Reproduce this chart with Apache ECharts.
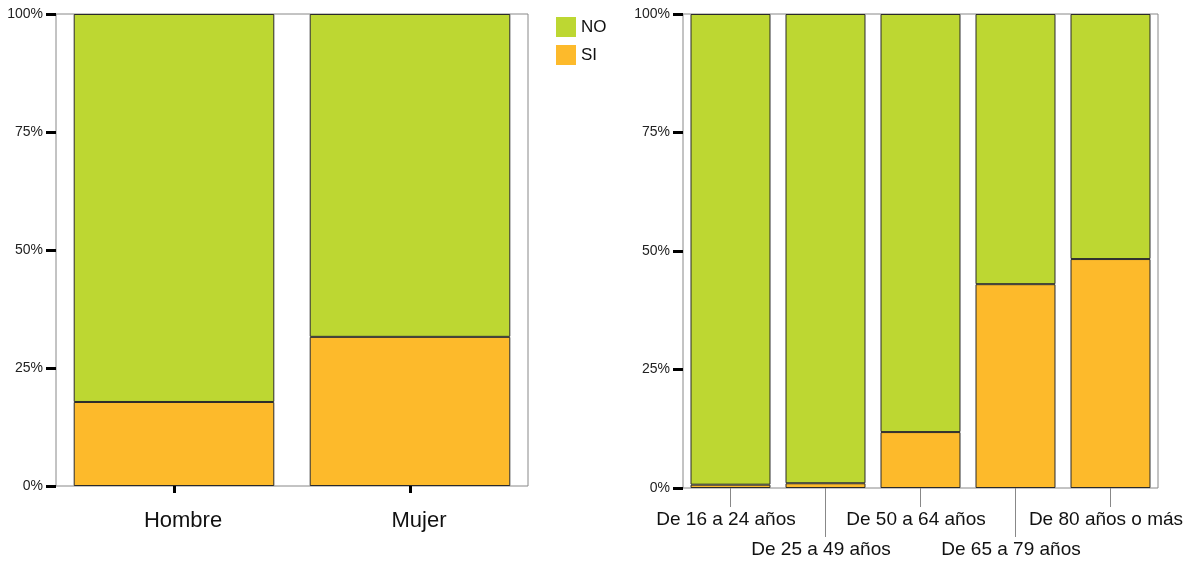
<!DOCTYPE html>
<html>
<head>
<meta charset="utf-8">
<script src="https://cdn.jsdelivr.net/npm/echarts@6/dist/echarts.min.js"></script>
<style>html,body{margin:0;padding:0;background:#fff}#c{width:1183px;height:563px}</style>
</head>
<body>
<div id="c"></div>
<script>
const sexCategories = ['Hombre', 'Mujer'];
const sexSI = [17.8, 31.6];
const sexNO = [82.2, 68.4];
const ageCategories = ['De 16 a 24 años', 'De 25 a 49 años', 'De 50 a 64 años', 'De 65 a 79 años', 'De 80 años o más'];
const ageSI = [0.7, 1.0, 11.8, 43.0, 48.3];
const ageNO = [99.3, 99.0, 88.2, 57.0, 51.7];
const yTicks = [0, 25, 50, 75, 100];

const GREEN = '#BDD732', ORANGE = '#FDBA2B';
const FONT = 'Liberation Sans, Arial, sans-serif';
const chart = echarts.init(document.getElementById('c'));
const barStyle = c => ({ color: c, borderColor: '#2a2a2a', borderWidth: 1 });
const yAxisCommon = idx => ({
  type: 'value', gridIndex: idx, min: yTicks[0], max: yTicks[yTicks.length - 1], interval: 25,
  axisLine: { show: false },
  axisTick: { show: true, length: 10, lineStyle: { color: '#000', width: 3 } },
  splitLine: { show: false },
  axisLabel: { formatter: '{value}%', fontFamily: FONT, fontSize: 14, color: '#222', margin: 13 }
});
const even = i => i % 2 === 0, odd = i => i % 2 === 1;
chart.setOption({
  animation: false,
  legend: {
    data: ['NO', 'SI'], orient: 'vertical', left: 556, top: 17, padding: 0,
    itemWidth: 20, itemHeight: 20, itemGap: 8, icon: 'rect',
    itemStyle: { borderWidth: 0 },
    textStyle: { fontFamily: FONT, fontSize: 17, color: '#111' }
  },
  grid: [
    { left: 56, top: 14, width: 472, height: 472, show: true, borderColor: '#888', borderWidth: 1, backgroundColor: 'transparent', outerBoundsMode: 'none', containLabel: false },
    { left: 683, top: 14, width: 475, height: 474, show: true, borderColor: '#888', borderWidth: 1, backgroundColor: 'transparent', outerBoundsMode: 'none', containLabel: false }
  ],
  xAxis: [
    {
      type: 'category', gridIndex: 0, data: sexCategories,
      axisLine: { show: false },
      axisTick: { show: true, alignWithLabel: true, length: 7, lineStyle: { color: '#000', width: 3 } },
      axisLabel: { fontFamily: FONT, fontSize: 22, color: '#111', margin: 24, padding: [0, 0, 0, 18] }
    },
    {
      type: 'category', gridIndex: 1, data: ageCategories,
      axisLine: { show: false },
      axisTick: { show: true, alignWithLabel: true, interval: even, length: 19, lineStyle: { color: '#888', width: 1 } },
      axisLabel: { interval: even, fontFamily: FONT, fontSize: 19, color: '#111', margin: 22, padding: [0, 9, 0, 0] }
    },
    {
      type: 'category', gridIndex: 1, data: ageCategories, position: 'bottom',
      axisLine: { show: false },
      axisTick: { show: true, alignWithLabel: true, interval: odd, length: 49, lineStyle: { color: '#888', width: 1 } },
      axisLabel: { interval: odd, fontFamily: FONT, fontSize: 19, color: '#111', margin: 52, padding: [0, 9, 0, 0] }
    }
  ],
  yAxis: [yAxisCommon(0), yAxisCommon(1)],
  series: [
    { name: 'SI', type: 'bar', stack: 's', xAxisIndex: 0, yAxisIndex: 0, data: sexSI, barCategoryGap: '15%', itemStyle: barStyle(ORANGE) },
    { name: 'NO', type: 'bar', stack: 's', xAxisIndex: 0, yAxisIndex: 0, data: sexNO, barCategoryGap: '15%', itemStyle: barStyle(GREEN) },
    { name: 'SI', type: 'bar', stack: 'a', xAxisIndex: 1, yAxisIndex: 1, data: ageSI, barCategoryGap: '15.8%', itemStyle: barStyle(ORANGE) },
    { name: 'NO', type: 'bar', stack: 'a', xAxisIndex: 1, yAxisIndex: 1, data: ageNO, barCategoryGap: '15.8%', itemStyle: barStyle(GREEN) }
  ]
});
</script>
</body>
</html>
